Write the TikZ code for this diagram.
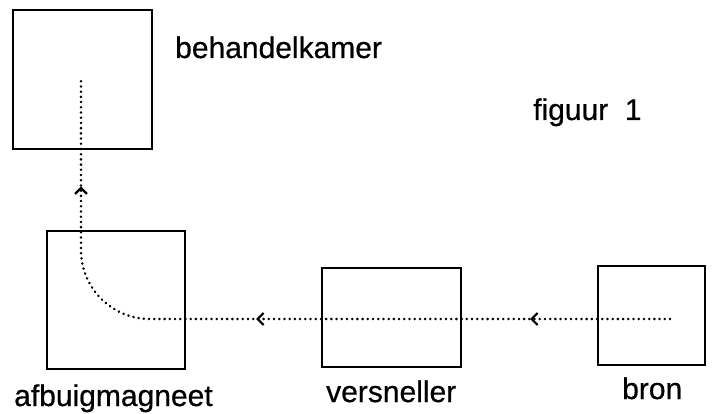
\documentclass[tikz,border=0pt]{standalone}
\usepackage{fontspec}
\setmainfont{Liberation Sans}
\newfontfamily\lblfont{Liberation Sans}[FakeBold=0.6]
\usetikzlibrary{arrows.meta,decorations.markings}
\tikzset{chev/.tip={Straight Barb[length=6pt,width=12pt,line width=2.2pt]}}
\begin{document}
\begin{tikzpicture}[x=1pt,y=-1pt,
  box/.style={draw,line width=2.6pt,rectangle,inner sep=0pt},
  lbl/.style={font=\lblfont\fontsize{30}{33}\selectfont,inner sep=0pt,anchor=base},
  beam/.style={line width=2.8pt,dash pattern=on 0.01pt off 5.2pt,line cap=round,
    postaction={decorate},
    decoration={markings,
      mark=at position 140pt with {\arrow{chev}},
      mark=at position 414pt with {\arrow{chev}},
      mark=at position 692pt with {\arrow{chev}}}}]
\useasboundingbox (0,0) rectangle (712,414);
% boxes
\node[box,minimum width=139pt,minimum height=139pt] (kamer) at (82.5,79.5) {};
\node[box,minimum width=138pt,minimum height=138pt] (magneet) at (116,300) {};
\node[box,minimum width=139pt,minimum height=99pt] (versneller) at (391.5,317.5) {};
\node[box,minimum width=107pt,minimum height=99pt] (bron) at (651.5,315.5) {};
% labels
\node[lbl,anchor=base west] (lkamer) at (175,58) {behandelkamer};
\node[lbl,anchor=base west] (lfig) at (533,120) {figuur\ \ 1};
\node[lbl,anchor=base west] (lmag) at (14,406) {afbuigmagneet};
\node[lbl,anchor=base west] (lvers) at (326,402) {versneller};
\node[lbl,anchor=base west] (lbron) at (622,399) {bron};
% beam
\coordinate (src) at (670,319);
\coordinate (b1) at (150,319);
\coordinate (b2) at (81,250);
\coordinate (dst) at (81,78);
\draw[beam] (src) -- (b1) .. controls (111.9,319) and (81,288.1) .. (b2) -- (dst);
\end{tikzpicture}
\end{document}
